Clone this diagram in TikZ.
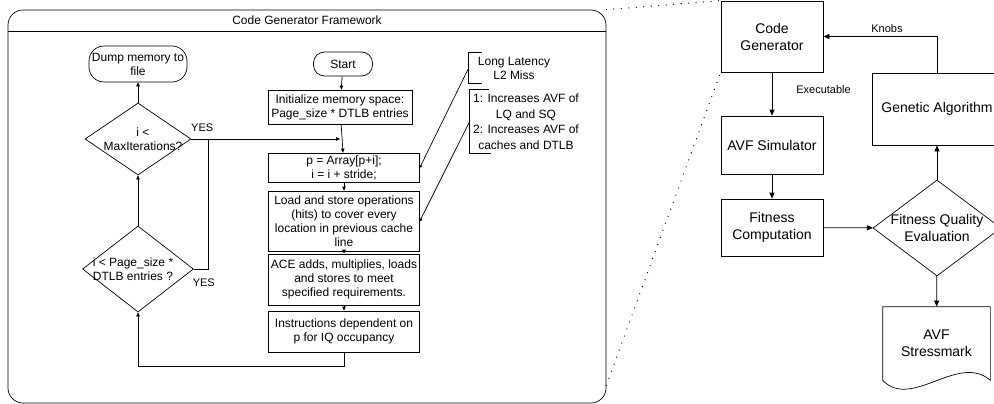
\documentclass[tikz,border=0pt]{standalone}
\usepackage{fontspec}
\setmainfont{Liberation Sans}
\usetikzlibrary{arrows.meta,shapes.geometric}

\begin{document}
\begin{tikzpicture}[x=1pt,y=-1pt,line width=0.7pt,>={Triangle[length=4pt,width=3.5pt]},
    box/.style={draw,align=center,inner sep=1pt,font=\fontsize{12}{14}\selectfont},
    terminal/.style={box,rounded corners=11pt},
    decision/.style={diamond,draw,inner sep=0pt},
    txt/.style={align=center,inner sep=0pt,font=\fontsize{12}{14}\selectfont},
    small/.style={inner sep=0pt,font=\fontsize{11}{13}\selectfont},
    bigbox/.style={draw,align=center,inner sep=1pt,minimum width=102pt,font=\fontsize{14}{17}\selectfont},
    bigtxt/.style={align=center,inner sep=0pt,font=\fontsize{14}{17}\selectfont},
    big arrow/.style={-{Triangle[length=6pt,width=5pt]}},
    dot end/.style={-{Circle[length=3pt]}},
    dotline/.style={line width=1.3pt,line cap=round,dash pattern=on 0pt off 7.5pt}]

            \useasboundingbox (0,0) rectangle (994,404);

            \node[draw, rounded corners=15pt, minimum width=598pt, minimum height=393pt, inner sep=0pt] (frame) at (307,206.5) {};
            \node[txt] (title) at (307,20.5) {Code Generator Framework};
            \draw (frame.west |- 0,31) -- (frame.east |- 0,31);

            \node[terminal, rounded corners=15pt, minimum width=98pt, minimum height=36pt, inner sep=0pt] (dump) at (138,64) {Dump memory to\\file};
            \node[terminal, minimum width=59pt, minimum height=24pt] (start) at (343,64) {Start};
            \node[box, minimum width=144pt, minimum height=34pt] (init) at (340,107) {Initialize memory space:\\Page\_size * DTLB entries};
            \node[box, minimum width=151pt, minimum height=29pt] (ptr) at (344,167.5) {p = Array[p+i];\\i = i + stride;};
            \node[box, minimum width=151pt, minimum height=60pt] (load) at (344,221) {Load and store operations\\(hits) to cover every\\location in previous cache\\line};
            \node[box, minimum width=151pt, minimum height=51pt] (ace) at (344,279.5) {ACE adds, multiplies, loads\\and stores to meet\\specified requirements.};
            \node[box, minimum width=151pt, minimum height=41pt] (instr) at (344,331.5) {Instructions dependent on\\p for IQ occupancy};

            \node[decision, minimum width=106pt, minimum height=72pt, label={[txt,xshift=5pt]center:i <\\MaxIterations?}] (iter) at (138,139) {};
            \node[decision, minimum width=111pt, minimum height=86pt, label={[txt,xshift=-5pt]center:i < Page\_size *\\DTLB entries ?}] (dtlb) at (138,269) {};
            \coordinate (join) at (208,139);

            \node[txt, minimum width=90pt, minimum height=30pt] (latency) at (514,68) {Long Latency\\L2 Miss};
            \node[txt, font=\fontsize{12}{15.5}\selectfont, minimum width=112pt, minimum height=63pt] (avf) at (526,121.5) {1: Increases AVF of\\LQ and SQ\\2: Increases AVF of\\caches and DTLB};
            \draw ([xshift=13pt]latency.north west) -- (latency.north west) -- (latency.south west) -- ([xshift=13pt]latency.south west);
            \draw ([xshift=19pt]avf.north west) -- (avf.north west) -- (avf.south west) -- ([xshift=21pt]avf.south west);

            \draw[->] (start) -- (init);
            \draw[->] (init) -- (ptr);
            \draw[->] (ptr) -- (load);
            \draw[->] (load) -- (ace);
            \draw[->] (ace) -- (instr);
            \draw[->] (iter.east) -- node[small, pos=0.073, above=7pt] {YES} (iter.east -| init.south);
            \draw (dtlb.east) -| node[small, pos=0.35, below=9pt] {YES} (join);
            \draw[->] (instr.south) -- ++(0,14) -| (dtlb.south);
            \draw[->] (dtlb) -- (iter);
            \draw[->] (iter) -- (dump);
            \draw[dot end] (latency.west) -- (ptr.east);
            \draw[dot end] (avf.west) -- (load.east);

            \node[bigbox, minimum height=71pt] (codegen) at (772,36.5) {Code\\Generator};
            \node[bigbox, minimum height=58pt] (avfsim) at (772,145) {AVF Simulator};
            \node[bigbox, minimum height=57pt] (fitness) at (772,227.5) {Fitness\\Computation};
            \node[bigbox, minimum width=130pt, minimum height=72pt] (genetic) at (937,109) {Genetic Algorithm};
            \node[decision, minimum width=128pt, minimum height=96pt, label={[bigtxt]center:Fitness Quality\\Evaluation}] (quality) at (937,228) {};
            \node[bigtxt, minimum width=107pt, minimum height=73pt] (stress) at (936.5,343.5) {AVF\\Stressmark};
            \draw (stress.south east) .. controls +(-32,-28) and +(29,30) .. (stress.south west) -- (stress.north west) -- (stress.north east) -- cycle;

            \draw[big arrow] (codegen) -- node[small, pos=0.4, right=24pt] {Executable} (avfsim);
            \draw[big arrow] (avfsim) -- (fitness);
            \draw[big arrow] (fitness) -- (quality);
            \draw[big arrow] (quality) -- (genetic);
            \draw[big arrow] (quality) -- (stress);
            \draw[big arrow] (genetic.north) |- node[small, pos=0.72, above=4pt] {Knobs} (codegen.east);

            \draw[dotline] (frame.north east) -- (codegen.north west);
            \draw[dotline] ([yshift=18pt]frame.south east) -- (codegen.south west);
        \end{tikzpicture}
\end{document}
